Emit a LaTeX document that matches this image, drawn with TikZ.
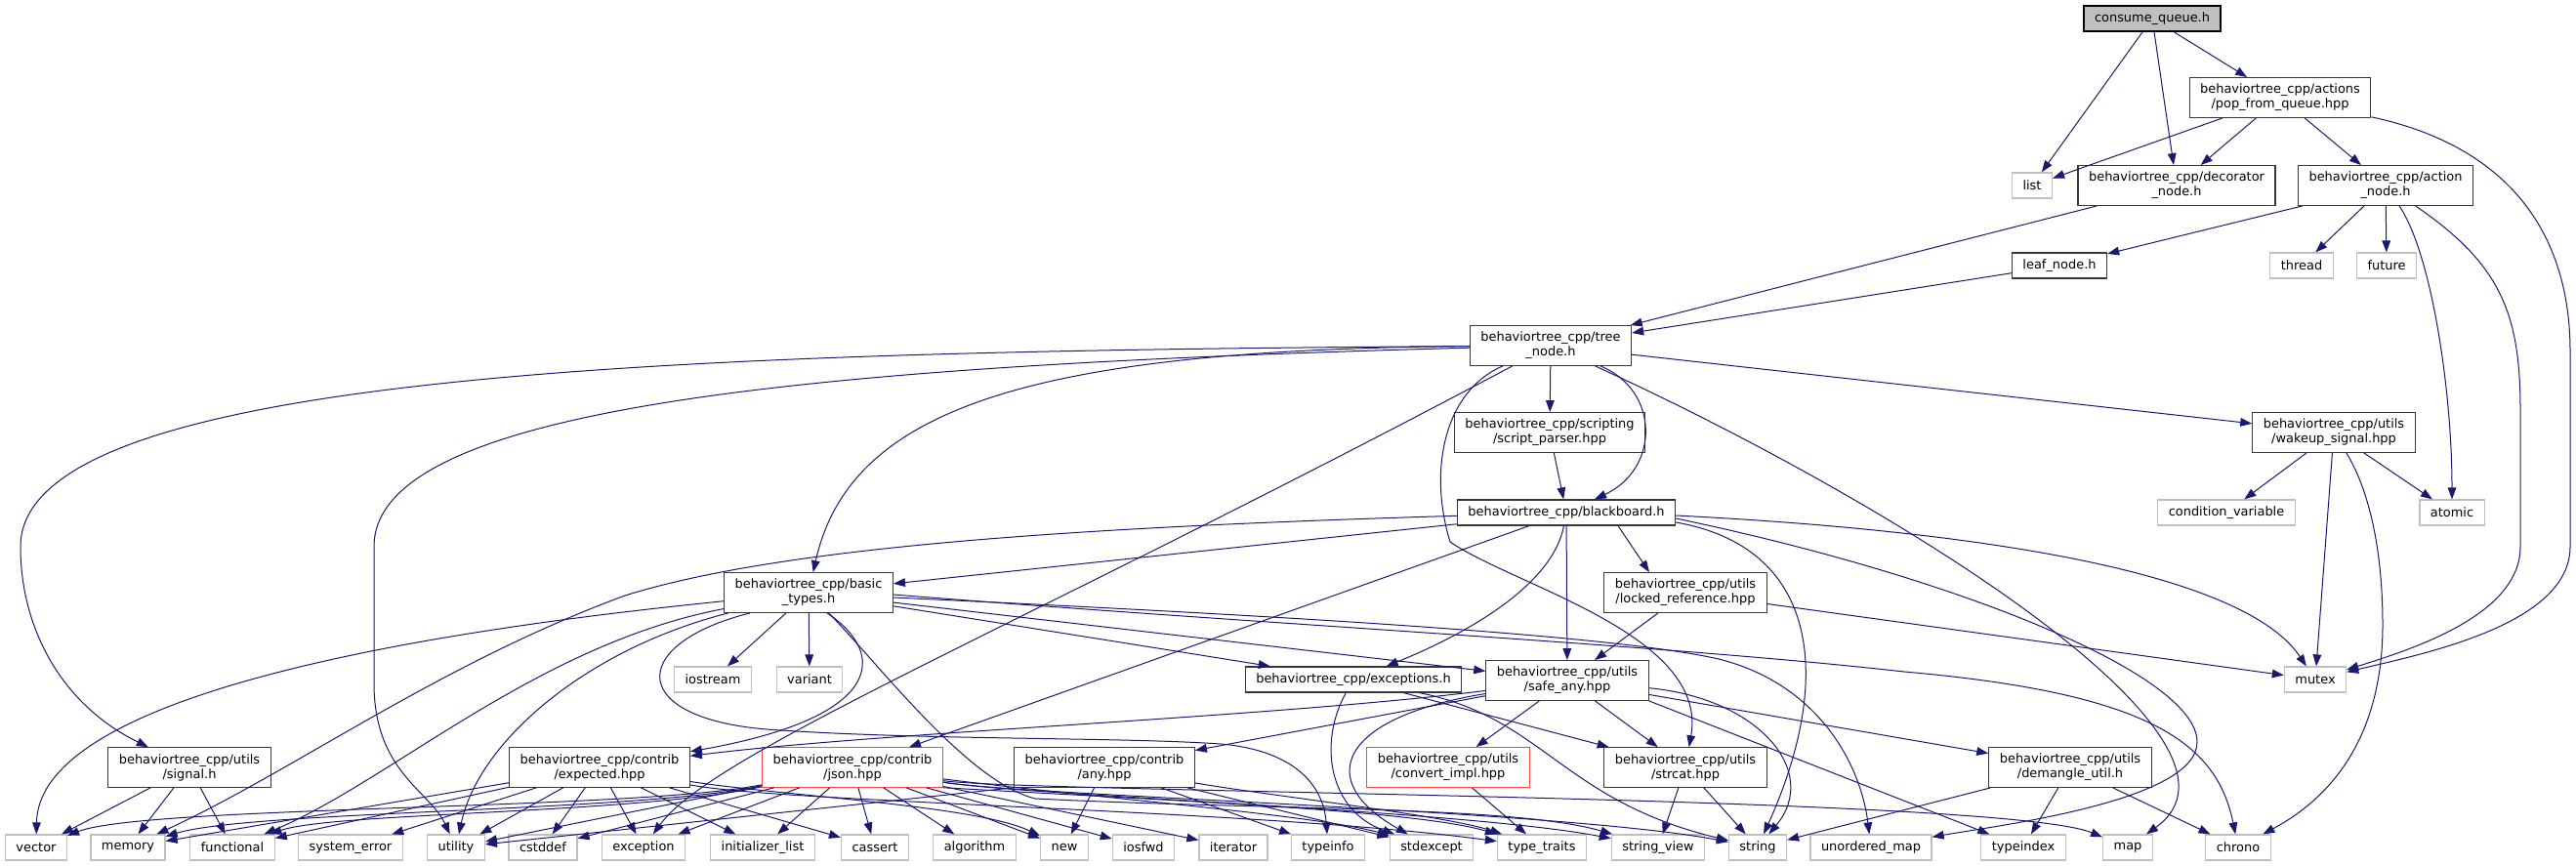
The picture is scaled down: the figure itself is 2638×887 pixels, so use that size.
\documentclass[tikz,border=0pt]{standalone}
\usepackage{fontspec}
\setmainfont{DejaVu Sans}
\usetikzlibrary{arrows.meta,calc}

\definecolor{incblue}{RGB}{25,25,112}
\definecolor{boxgray}{RGB}{56,56,56}
\definecolor{sysgray}{RGB}{191,191,191}
\definecolor{rootfill}{RGB}{191,191,191}
\definecolor{cutred}{RGB}{255,70,70}

\newcommand{\graphfont}{\fontsize{9.7}{11.25}\selectfont}

\begin{document}
\begin{tikzpicture}[
    x=0.75pt, y=-0.75pt,
    filenode/.style={rectangle, draw=boxgray, fill=white, line width=0.9pt, inner xsep=8.25pt, inner ysep=4.8pt, minimum height=19.5pt, align=center, font=\graphfont},
    rootnode/.style={filenode, draw=black, fill=rootfill},
    sysnode/.style={filenode, draw=sysgray},
    cutnode/.style={filenode, draw=cutred},
    inc/.style={draw=incblue, line width=0.75pt, -{Triangle[length=9pt, width=6.5pt]}},
    ]
      \useasboundingbox (0,0) rectangle (2638,887);

      %Nodes
      \node      (consume)    [rootnode]  at (2204,19)   {consume\_queue.h};
      \node      (pop)        [filenode]  at (2335,100)  {behaviortree\_cpp/actions\\/pop\_from\_queue.hpp};
      \node      (list)       [sysnode]   at (2081,190)  {list};
      \node      (decorator)  [filenode]  at (2229,190)  {behaviortree\_cpp/decorator\\\_node.h};
      \node      (action)     [filenode]  at (2443,190)  {behaviortree\_cpp/action\\\_node.h};
      \node      (leaf)       [filenode]  at (2109,272)  {leaf\_node.h};
      \node      (thread)     [sysnode]   at (2357,272)  {thread};
      \node      (future)     [sysnode]   at (2444,272)  {future};
      \node      (tree)       [filenode]  at (1588,354)  {behaviortree\_cpp/tree\\\_node.h};
      \node      (script)     [filenode]  at (1587,443)  {behaviortree\_cpp/scripting\\/script\_parser.hpp};
      \node      (wakeup)     [filenode]  at (2390,443)  {behaviortree\_cpp/utils\\/wakeup\_signal.hpp};
      \node      (blackboard) [filenode]  at (1604,525)  {behaviortree\_cpp/blackboard.h};
      \node      (condvar)    [sysnode]   at (2280,525)  {condition\_variable};
      \node      (atomic)     [sysnode]   at (2511,525)  {atomic};
      \node      (basic)      [filenode]  at (828,607)   {behaviortree\_cpp/basic\\\_types.h};
      \node      (locked)     [filenode]  at (1726,607)  {behaviortree\_cpp/utils\\/locked\_reference.hpp};
      \node      (iostream)   [sysnode]   at (730,696)   {iostream};
      \node      (variant)    [sysnode]   at (829,696)   {variant};
      \node      (exceptions) [filenode]  at (1386,696)  {behaviortree\_cpp/exceptions.h};
      \node      (safeany)    [filenode]  at (1605,697)  {behaviortree\_cpp/utils\\/safe\_any.hpp};
      \node      (mutex)      [sysnode]   at (2371,696)  {mutex};
      \node      (signal)     [filenode]  at (194,786)   {behaviortree\_cpp/utils\\/signal.h};
      \node      (expected)   [filenode]  at (614,786)   {behaviortree\_cpp/contrib\\/expected.hpp};
      \node      (json)       [cutnode]   at (873,786)   {behaviortree\_cpp/contrib\\/json.hpp};
      \node      (any)        [filenode]  at (1131,786)  {behaviortree\_cpp/contrib\\/any.hpp};
      \node      (convert)    [cutnode]   at (1483,786)  {behaviortree\_cpp/utils\\/convert\_impl.hpp};
      \node      (strcat)     [filenode]  at (1726,786)  {behaviortree\_cpp/utils\\/strcat.hpp};
      \node      (demangle)   [filenode]  at (2120,786)  {behaviortree\_cpp/utils\\/demangle\_util.h};

      % bottom row
      \node      (vector)          [sysnode]  at (37,868)    {vector};
      \node      (memory)          [sysnode]  at (131,868)   {memory};
      \node      (functional)      [sysnode]  at (238,868)   {functional};
      \node      (systemerror)     [sysnode]  at (359,868)   {system\_error};
      \node      (utility)         [sysnode]  at (467,868)   {utility};
      \node      (cstddef)         [sysnode]  at (556,868)   {cstddef};
      \node      (exception)       [sysnode]  at (659,868)   {exception};
      \node      (initializerlist) [sysnode]  at (781,868)   {initializer\_list};
      \node      (cassert)         [sysnode]  at (896,868)   {cassert};
      \node      (algorithm)       [sysnode]  at (998,868)   {algorithm};
      \node      (new)             [sysnode]  at (1090,868)  {new};
      \node      (iosfwd)          [sysnode]  at (1171,868)  {iosfwd};
      \node      (iterator)        [sysnode]  at (1263,868)  {iterator};
      \node      (typeinfo)        [sysnode]  at (1360,868)  {typeinfo};
      \node      (stdexcept)       [sysnode]  at (1466,868)  {stdexcept};
      \node      (typetraits)      [sysnode]  at (1579,868)  {type\_traits};
      \node      (stringview)      [sysnode]  at (1698,868)  {string\_view};
      \node      (string)          [sysnode]  at (1800,868)  {string};
      \node      (unorderedmap)    [sysnode]  at (1916,868)  {unordered\_map};
      \node      (typeindex)       [sysnode]  at (2072,868)  {typeindex};
      \node      (map)             [sysnode]  at (2179,868)  {map};
      \node      (chrono)          [sysnode]  at (2292,868)  {chrono};

      %Lines
      \draw[inc] (consume) to (list);
      \draw[inc] (consume) to (decorator);
      \draw[inc] (consume) to (pop);

      \draw[inc] (pop) to (list);
      \draw[inc] (pop) to (decorator);
      \draw[inc] (pop) to (action);
      \draw[inc] (pop) .. controls (2570,150) and (2632,240) .. (2632,360) -- (2632,560) .. controls (2632,640) and (2480,670) .. (mutex);

      \draw[inc] (decorator) to (tree);

      \draw[inc] (action) to (leaf);
      \draw[inc] (action) to (thread);
      \draw[inc] (action) to (future);
      \draw[inc] (action) .. controls (2490,260) and (2511,400) .. (atomic);
      \draw[inc] (action) .. controls (2560,270) and (2581,320) .. (2581,420) -- (2581,560) .. controls (2581,630) and (2470,665) .. (mutex);

      \draw[inc] (leaf) to (tree);

      \draw[inc] (tree) .. controls (700,360) and (21,380) .. (21,560) .. controls (21,640) and (60,720) .. (signal);
      \draw[inc] (tree) .. controls (800,375) and (383,420) .. (383,560) -- (383,700) .. controls (383,790) and (440,810) .. (utility);
      \draw[inc] (tree) .. controls (1050,358) and (870,420) .. (basic);
      \draw[inc] (tree) .. controls (1050,640) and (730,770) .. (exception);
      \draw[inc] (tree) to (script);
      \draw[inc] (tree) .. controls (1700,400) and (1700,480) .. (blackboard);
      \draw[inc] (tree) .. controls (1480,400) and (1462,480) .. (1485,555) .. controls (1550,600) and (1750,650) .. (strcat);
      \draw[inc] (tree) .. controls (1950,520) and (2330,760) .. (map);
      \draw[inc] (tree) to (wakeup);

      \draw[inc] (script) to (blackboard);

      \draw[inc] (blackboard) to (basic);
      \draw[inc] (blackboard) .. controls (1100,540) and (800,560) .. (640,610) .. controls (450,680) and (300,790) .. (memory);
      \draw[inc] (blackboard) to (json);
      \draw[inc] (blackboard) .. controls (1590,600) and (1500,650) .. (exceptions);
      \draw[inc] (blackboard) to (safeany);
      \draw[inc] ($(blackboard.south)+(53,0)$) to ($(locked.north)+(-37,0)$);
      \draw[inc] ($(blackboard.east)+(0,10)$) .. controls (1860,560) and (1880,690) .. (string);
      \draw[inc] ($(blackboard.east)+(0,6)$) .. controls (2000,590) and (2250,690) .. (2250,760) .. controls (2250,820) and (2050,845) .. (unorderedmap);
      \draw[inc] ($(blackboard.east)+(0,3)$) .. controls (2050,545) and (2300,590) .. (mutex);

      \draw[inc] (locked) to (safeany);
      \draw[inc] (locked) to (mutex);

      \draw[inc] (wakeup) to (condvar);
      \draw[inc] (wakeup) to (mutex);
      \draw[inc] (wakeup) .. controls (2425,500) and (2440,560) .. (2440,640) .. controls (2440,740) and (2400,810) .. (chrono);
      \draw[inc] (wakeup) to (atomic);

      \draw[inc] (basic) to (iostream);
      \draw[inc] (basic) to (variant);
      \draw[inc] (basic) .. controls (500,640) and (40,700) .. (vector);
      \draw[inc] (basic) .. controls (550,660) and (400,800) .. (functional);
      \draw[inc] (basic) .. controls (600,665) and (490,760) .. (utility);
      \draw[inc] ($(basic.south)+(19,0)$) .. controls (910,670) and (905,735) .. (expected);
      \draw[inc] (basic) to (exceptions);
      \draw[inc] (basic) to (safeany);
      \draw[inc] ($(basic.east)+(0,2)$) .. controls (1300,640) and (1700,660) .. (1950,688) .. controls (2200,710) and (2270,760) .. (chrono);
      \draw[inc] ($(basic.east)+(0,5)$) .. controls (1300,630) and (1650,650) .. (1760,675) .. controls (1860,700) and (1905,780) .. (unorderedmap);
      \draw[inc] ($(basic.south)+(-60,0)$) .. controls (640,660) and (640,740) .. (800,748) .. controls (950,758) and (1150,755) .. (1250,762) .. controls (1320,768) and (1355,800) .. (typeinfo);
      \draw[inc] (basic) .. controls (900,680) and (990,800) .. (1060,818) .. controls (1300,830) and (1550,825) .. (stringview);

      \draw[inc] (exceptions) .. controls (1350,760) and (1360,830) .. (stdexcept);
      \draw[inc] (exceptions) to (strcat);
      \draw[inc] (exceptions) .. controls (1580,735) and (1600,820) .. (string);

      \draw[inc] (safeany) .. controls (1300,735) and (900,750) .. (expected);
      \draw[inc] (safeany) to (any);
      \draw[inc] (safeany) to (convert);
      \draw[inc] (safeany) to (strcat);
      \draw[inc] (safeany) to (demangle);
      \draw[inc] (safeany.south east) to (typeindex);
      \draw[inc] (safeany) .. controls (1800,715) and (1865,790) .. (string);
      \draw[inc] (safeany) .. controls (1370,735) and (1345,800) .. (stdexcept);

      \draw[inc] (signal) to (vector);
      \draw[inc] (signal) to (memory);
      \draw[inc] (signal) to (functional);

      \draw[inc] (expected) to (memory);
      \draw[inc] (expected) to (functional);
      \draw[inc] (expected) to (systemerror);
      \draw[inc] (expected) to (utility);
      \draw[inc] (expected) to (cstddef);
      \draw[inc] (expected) to (exception);
      \draw[inc] (expected) to (initializerlist);
      \draw[inc] (expected) to (cassert);
      \draw[inc] (expected) .. controls (800,815) and (1000,825) .. (new);
      \draw[inc] (expected) .. controls (800,822) and (1300,830) .. (typetraits);

      \draw[inc] ($(json.south west)+(0,-3)$) .. controls (650,830) and (150,825) .. (vector);
      \draw[inc] ($(json.south west)+(0,-2)$) .. controls (650,832) and (260,830) .. (memory);
      \draw[inc] ($(json.south west)+(0,-1)$) .. controls (650,834) and (340,832) .. (functional);
      \draw[inc] (json) to (utility);
      \draw[inc] (json) to (cstddef);
      \draw[inc] (json) to (exception);
      \draw[inc] (json) to (initializerlist);
      \draw[inc] (json) to (cassert);
      \draw[inc] (json) to (algorithm);
      \draw[inc] (json) to (new);
      \draw[inc] (json) to (iosfwd);
      \draw[inc] (json) to (iterator);
      \draw[inc] (json) .. controls (1100,815) and (1350,835) .. (stdexcept);
      \draw[inc] (json.south east) .. controls (1200,820) and (1450,830) .. (typetraits);
      \draw[inc] (json) .. controls (1050,815) and (1500,830) .. (stringview);
      \draw[inc] (json) .. controls (1050,815) and (1600,830) .. (string);
      \draw[inc] (json) .. controls (1050,812) and (2050,815) .. (map);

      \draw[inc] (any.south west) to (utility);
      \draw[inc] (any) to (new);
      \draw[inc] (any) to (typeinfo);
      \draw[inc] (any) to (stdexcept);
      \draw[inc] (any) .. controls (1300,815) and (1480,835) .. (typetraits);

      \draw[inc] (convert) to (typetraits);

      \draw[inc] (strcat) to (stringview);
      \draw[inc] (strcat) to (string);

      \draw[inc] (demangle) to (string);
      \draw[inc] (demangle) to (typeindex);
      \draw[inc] (demangle) to (chrono);
    \end{tikzpicture}
\end{document}
